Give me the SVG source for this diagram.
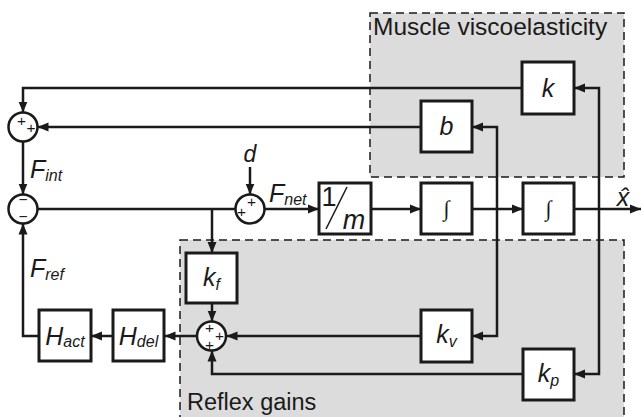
<svg xmlns="http://www.w3.org/2000/svg" width="641" height="417" viewBox="0 0 641 417">
<style>
.grp{fill:#dcdcdc;stroke:#1a1a1a;stroke-width:1.5;stroke-dasharray:8 5}
.blk{fill:#fff;stroke:#1a1a1a;stroke-width:3}
.sum{fill:#fff;stroke:#1a1a1a;stroke-width:2.5}
.ln{fill:none;stroke:#1a1a1a;stroke-width:2.5}
.ar{fill:none;stroke:#1a1a1a;stroke-width:2.5;marker-end:url(#ah)}
.m{font-family:"Liberation Sans",Arial,sans-serif;font-style:italic;font-size:25px;fill:#1a1a1a}
.s{font-size:16px}
.sg{font-family:"Liberation Sans",Arial,sans-serif;font-size:15.5px;fill:#1a1a1a;text-anchor:middle}
.t{font-family:"Liberation Sans",Arial,sans-serif;font-size:23.5px;fill:#1a1a1a}
.in{font-family:"Liberation Serif","Times New Roman",serif;font-style:italic;font-size:22px;fill:#1a1a1a;text-anchor:middle}
</style>
<defs>
<marker id="ah" markerUnits="userSpaceOnUse" markerWidth="12" markerHeight="10" refX="11" refY="5" orient="auto">
<path d="M0,0.5 L11,5 L0,9.5 z" fill="#1a1a1a"/>
</marker>
</defs>
<rect width="641" height="417" fill="#fff"/>
<g id="muscle-group">
<rect class="grp" x="370" y="13" width="254" height="164"/>
<text class="t" x="373" y="35" style="font-size:24.5px">Muscle viscoelasticity</text>
</g>
<g id="reflex-group">
<rect class="grp" x="180" y="240" width="444" height="200"/>
<text class="t" x="187" y="410">Reflex gains</text>
</g>
<g id="connectors">
<path class="ar" d="M522,88 H23 V112.5"/>
<path class="ar" d="M421,127 H37.5"/>
<path class="ar" d="M23,141.5 V194.5"/>
<path class="ln" d="M37.5,209 H235.5"/>
<path class="ar" d="M250,167 V194.5"/>
<path class="ar" d="M212,209 V253"/>
<path class="ar" d="M264.5,209 H319"/>
<path class="ar" d="M371,209 H421"/>
<path class="ar" d="M472,209 H523"/>
<path class="ar" d="M574,209 H641"/>
<path class="ar" d="M497,209 V127 H472"/>
<path class="ar" d="M497,209 V336 H472"/>
<path class="ar" d="M599,209 V88 H574"/>
<path class="ar" d="M599,209 V374 H574"/>
<path class="ar" d="M212,303 V321.5"/>
<path class="ar" d="M421,336 H226.5"/>
<path class="ar" d="M523,374 H212 V350.5"/>
<path class="ar" d="M197,336 H164.5"/>
<path class="ar" d="M113,336 H91"/>
<path class="ar" d="M39,336 H23 V223.5"/>
<text class="m" x="30" y="178">F<tspan class="s" dy="3">int</tspan></text>
<text class="m" x="30" y="277">F<tspan class="s" dy="3">ref</tspan></text>
<text class="m" x="269" y="202">F<tspan class="s" dy="3">net</tspan></text>
<text class="m" x="250" y="162" text-anchor="middle" style="font-size:23px">d</text>
<text class="m" x="623" y="206" text-anchor="middle">x̂</text>
</g>
<g id="sum-int">
<circle class="sum" cx="23" cy="127" r="14.5"/>
<text class="sg" x="21.5" y="126">+</text>
<text class="sg" x="31" y="132.5">+</text>
</g>
<g id="sum-ref">
<circle class="sum" cx="23" cy="209" r="14.5"/>
<text class="sg" x="23" y="204.5">−</text>
<text class="sg" x="23" y="222">−</text>
</g>
<g id="sum-net">
<circle class="sum" cx="250" cy="209" r="14.5"/>
<text class="sg" x="251.5" y="207">+</text>
<text class="sg" x="241.5" y="216.5">+</text>
</g>
<g id="sum-reflex">
<circle class="sum" cx="211.5" cy="336" r="14.5"/>
<text class="sg" x="209.5" y="332.5">+</text>
<text class="sg" x="219.5" y="341">+</text>
<text class="sg" x="209.5" y="350">+</text>
</g>
<g id="k">
<rect class="blk" x="522" y="62" width="52" height="52"/>
<text class="m" x="548" y="97" text-anchor="middle">k</text>
</g>
<g id="b">
<rect class="blk" x="421" y="101" width="51" height="51"/>
<text class="m" x="446.5" y="135" text-anchor="middle">b</text>
</g>
<g id="inv-m">
<rect class="blk" x="319" y="183" width="52" height="51"/>
<text class="m" x="329" y="206" text-anchor="middle" style="font-style:normal;font-size:27px">1</text>
<line x1="347" y1="187" x2="326" y2="229" stroke="#1a1a1a" stroke-width="1.5"/>
<text class="m" x="354" y="229" text-anchor="middle" style="font-size:27px">m</text>
</g>
<g id="int1">
<rect class="blk" x="421" y="183" width="51" height="51"/>
<text class="in" x="446.5" y="216">∫</text>
</g>
<g id="int2">
<rect class="blk" x="523" y="183" width="51" height="51"/>
<text class="in" x="548.5" y="216">∫</text>
</g>
<g id="kf">
<rect class="blk" x="186" y="253" width="51" height="50"/>
<text class="m" x="211.5" y="286" text-anchor="middle">k<tspan class="s" dy="4">f</tspan></text>
</g>
<g id="kv">
<rect class="blk" x="421" y="310" width="51" height="52"/>
<text class="m" x="446.5" y="343" text-anchor="middle">k<tspan class="s" dy="4">v</tspan></text>
</g>
<g id="kp">
<rect class="blk" x="523" y="349" width="51" height="51"/>
<text class="m" x="548.5" y="382" text-anchor="middle">k<tspan class="s" dy="4">p</tspan></text>
</g>
<g id="H-del">
<rect class="blk" x="113" y="310" width="51" height="51"/>
<text class="m" x="138.5" y="345" text-anchor="middle">H<tspan class="s" dy="2">del</tspan></text>
</g>
<g id="H-act">
<rect class="blk" x="39" y="310" width="52" height="51"/>
<text class="m" x="65" y="345" text-anchor="middle">H<tspan class="s" dy="2">act</tspan></text>
</g>
</svg>
